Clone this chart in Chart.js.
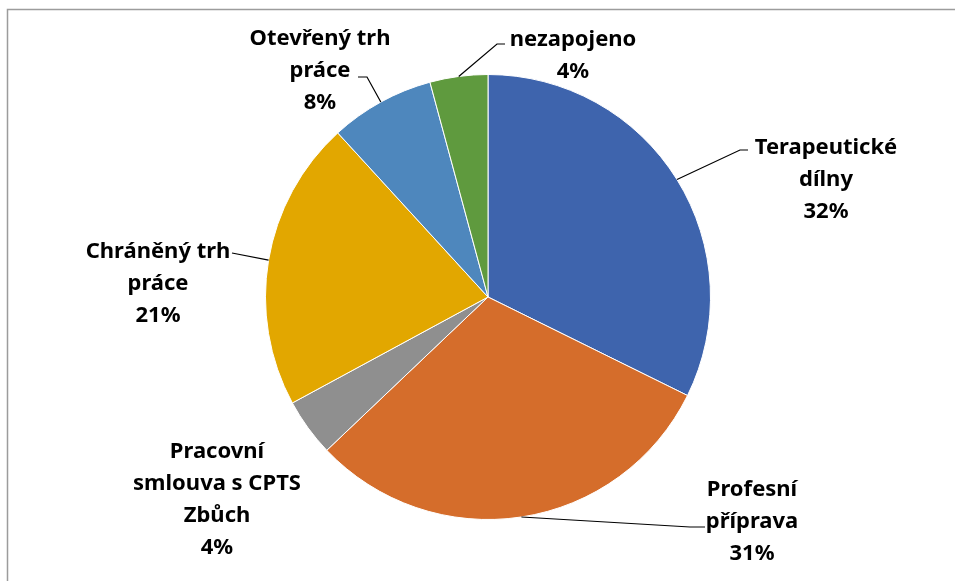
<!DOCTYPE html>
<html>
<head>
<meta charset="utf-8">
<script src="https://cdn.jsdelivr.net/npm/chart.js@4"></script>
<style>
  html, body { margin: 0; padding: 0; background: #fff; }
  #wrap { position: relative; width: 955px; height: 581px; }
</style>
</head>
<body>
<div id="wrap"><canvas id="chart" width="955" height="581"></canvas></div>
<script>
// data (percent shares)
let categories = [
  ["Terapeutické", "dílny"],
  ["Profesní", "příprava"],
  ["Pracovní", "smlouva s CPTS", "Zbůch"],
  ["Chráněný trh", "práce"],
  ["Otevřený trh", "práce"],
  ["nezapojeno"]
]
let shares = [32.3, 30.6, 4.2, 21.1, 7.6, 4.2]
let sliceColors = ["#3E64AD", "#D56D2B", "#8F8F8F", "#E2A700", "#4E87BD", "#5F9A3E"]

// where each label sits, relative to pie center (px), and where its leader line ends
let labelPlace = [
  { tx: 338, ty: -117, lx: 252, ly: -147, ex: 260, line: true },
  { tx: 264, ty: 225, lx: 202, ly: 230, ex: 217, line: true },
  { tx: -271, ty: 203, line: false },
  { tx: -330, ty: -13, lx: -256, ly: -44, ex: null, line: true },
  { tx: -168, ty: -226, lx: -121, ly: -220, ex: -130, line: true },
  { tx: 85, ty: -241, lx: 9, ly: -253, ex: 17, line: true }
]

const fontSpec = "bold 22px 'Noto Sans'"
const lineGap = 32

const labelsPlugin = {
  id: "outerLabels",
  afterDatasetsDraw(chart) {
    const ctx = chart.ctx
    const meta = chart.getDatasetMeta(0)
    ctx.save()
    // frame
    ctx.strokeStyle = "#9c9c9c"
    ctx.lineWidth = 1.5
    ctx.beginPath()
    ctx.moveTo(7.5, 581)
    ctx.lineTo(7.5, 9.5)
    ctx.lineTo(955, 9.5)
    ctx.stroke()

    ctx.font = fontSpec
    ctx.fillStyle = "#000"
    ctx.textAlign = "center"
    ctx.textBaseline = "middle"
    const total = shares.reduce((a, b) => a + b, 0)
    meta.data.forEach((arc, i) => {
      const p = labelPlace[i]
      const cx = arc.x, cy = arc.y
      const mid = (arc.startAngle + arc.endAngle) / 2
      const pct = Math.round(shares[i] * 100 / total) + "%"
      const lines = categories[i].concat([pct])
      const top = cy + p.ty - (lines.length - 1) * lineGap / 2
      lines.forEach((t, k) => ctx.fillText(t, cx + p.tx, top + k * lineGap))
      if (p.line) {
        const sx = cx + Math.cos(mid) * arc.outerRadius
        const sy = cy + Math.sin(mid) * arc.outerRadius
        ctx.strokeStyle = "#000"
        ctx.lineWidth = 1.2
        ctx.beginPath()
        ctx.moveTo(sx, sy)
        ctx.lineTo(cx + p.lx, cy + p.ly)
        if (p.ex !== null) ctx.lineTo(cx + p.ex, cy + p.ly)
        ctx.stroke()
      }
    })
    ctx.restore()
  }
}

new Chart("chart", {
  type: "pie",
  data: {
    labels: categories.map(c => c.join(" ")),
    datasets: [{
      data: shares,
      backgroundColor: sliceColors,
      borderColor: "#ffffff",
      borderWidth: 1
    }]
  },
  options: {
    responsive: false,
    animation: false,
    layout: { padding: { left: 200, right: 179, top: 74, bottom: 61 } },
    plugins: {
      legend: { display: false },
      tooltip: { enabled: false }
    }
  },
  plugins: [labelsPlugin]
});
</script>
</body>
</html>
